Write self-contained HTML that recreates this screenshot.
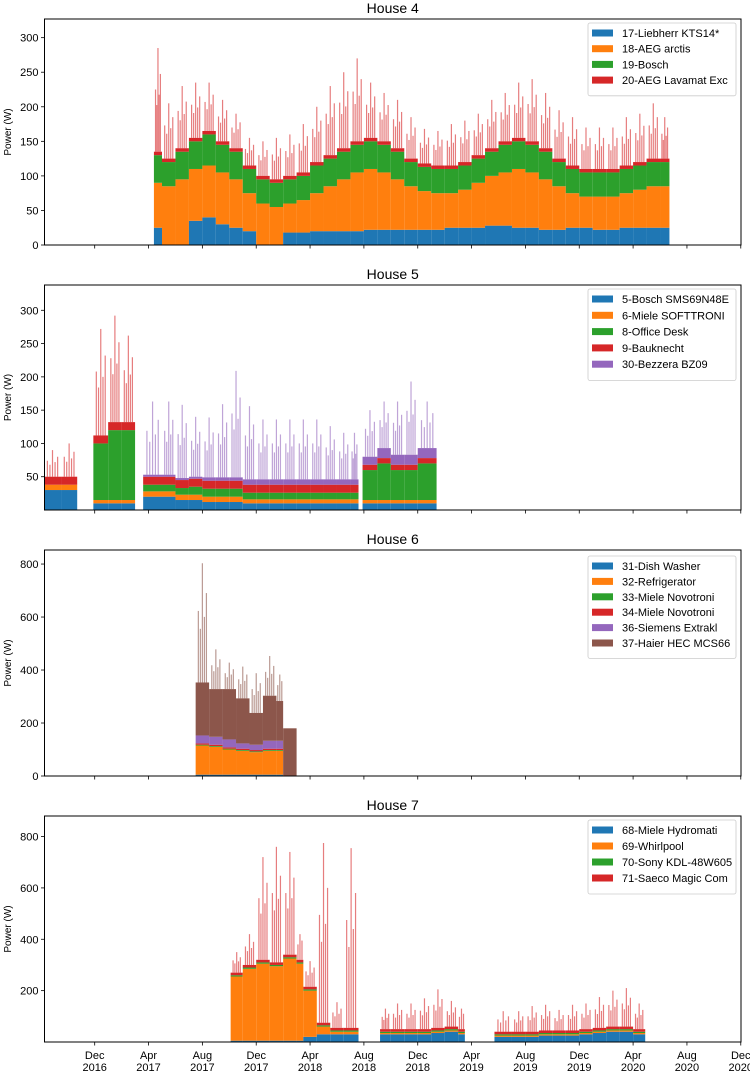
<!DOCTYPE html>
<html><head><meta charset="utf-8"><style>
html,body{margin:0;padding:0;background:#fff;}
svg{display:block;font-family:"Liberation Sans","DejaVu Sans",sans-serif;}
</style></head><body>
<svg id="chart" width="750" height="1071" viewBox="0 0 750 1071" xmlns="http://www.w3.org/2000/svg"></svg>
<script>
// x-axis: month offsets relative to Dec 2016 (0)
const xTickLabels = [["Dec","2016"],["Apr","2017"],["Aug","2017"],["Dec","2017"],["Apr","2018"],["Aug","2018"],["Dec","2018"],["Apr","2019"],["Aug","2019"],["Dec","2019"],["Apr","2020"],["Aug","2020"],["Dec","2020"]];
const xTickMonths = [0,4,8,12,16,20,24,28,32,36,40,44,48];

// House 4
const h4Names = ["17-Liebherr KTS14*","18-AEG arctis","19-Bosch","20-AEG Lavamat Exc"];
const h4Dates = [4.4,5,6,7,8,9,10,11,12,13,14,15,16,17,18,19,20,21,22,23,24,25,26,27,28,29,30,31,32,33,34,35,36,37,38,39,40,41,42,42.7];
const h4Blue = [25,0,0,35,40,30,25,20,0,0,18,18,20,20,20,20,22,22,22,22,22,22,25,25,25,28,28,25,25,22,22,25,25,22,22,25,25,25,25];
const h4Orange = [65,85,95,75,75,75,70,55,60,55,42,47,55,65,75,85,88,83,73,63,56,53,50,55,65,72,77,85,80,73,63,50,45,48,48,50,55,60,60];
const h4Green = [40,35,40,40,45,40,40,35,35,35,35,35,40,40,40,40,40,40,40,35,35,35,35,35,35,35,40,40,40,40,35,35,35,35,35,35,35,35,35];
const h4Red = [5,5,5,5,5,5,5,5,5,5,5,5,5,5,5,5,5,5,5,5,5,5,5,5,5,5,5,5,5,5,5,5,5,5,5,5,5,5,5];
const h4Peaks = [150,80,90,80,70,60,50,40,50,60,60,70,80,100,110,120,80,70,70,60,50,50,60,60,60,70,70,80,90,80,70,70,60,60,60,70,70,80,60];

// House 5
const h5Names = ["5-Bosch SMS69N48E","6-Miele SOFTTRONI","8-Office Desk","9-Bauknecht","30-Bezzera BZ09"];
const h5Dates = [-3.77,-2.5,-1.3,-0.1,1,2,3,3.6,5,6,7,8,9,10,11,12,13,14,15,16,17,18,19,19.6,19.9,21,22,23,24,25.4];
const h5Blue = [30,30,0,10,10,10,0,20,20,15,15,12,12,12,10,10,10,10,10,10,10,10,10,0,10,10,10,10,10];
const h5Orange = [8,8,0,5,5,5,0,8,8,8,8,8,8,8,6,6,6,6,6,6,6,6,6,0,5,5,5,5,5];
const h5Green = [0,0,0,85,105,105,0,10,10,10,12,12,12,12,10,10,10,10,10,10,10,10,10,0,45,55,45,45,55];
const h5Red = [12,12,0,12,12,12,0,12,12,12,12,12,12,12,12,12,12,12,12,12,12,12,12,0,8,8,8,8,8];
const h5Purple = [0,0,0,0,0,0,0,3,3,3,3,5,5,5,8,8,8,8,8,8,8,8,8,0,12,15,15,15,15];
const h5Peaks = [40,50,0,160,160,130,0,110,110,110,90,90,110,160,110,90,90,90,90,90,80,70,70,0,70,70,80,110,70];

// House 6
const h6Names = ["31-Dish Washer","32-Refrigerator","33-Miele Novotroni","34-Miele Novotroni","36-Siemens Extrakl","37-Haier HEC MCS66"];
const h6Dates = [7.5,8.5,9.5,10.5,11.5,12.5,13.5,14.0,15.0];
const h6Blue = [5,5,5,5,5,5,5,0];
const h6Orange = [110,105,95,90,85,90,90,0];
const h6Green = [3,3,3,3,3,3,3,0];
const h6Red = [5,5,5,5,5,5,5,0];
const h6Purple = [30,30,30,20,20,30,30,0];
const h6Brown = [200,180,190,170,120,170,150,180];
const h6Peaks = [450,150,100,120,150,150,100,0];

// House 7
const h7Names = ["68-Miele Hydromati","69-Whirlpool","70-Sony KDL-48W605","71-Saeco Magic Com"];
const h7Dates = [10.1,11,12,13,14,15,15.5,16.5,17.5,18.5,19.6,21.2,22,23,24,25,26,27,27.5,29.7,31,32,33,34,35,36,37,38,39,40,40.9];
const h7Blue = [5,5,5,5,5,5,20,30,30,30,0,30,30,30,30,35,40,30,0,20,20,20,25,25,25,30,35,40,40,30];
const h7Orange = [250,280,300,290,320,300,180,30,10,10,0,5,5,5,5,5,5,5,0,5,5,5,5,5,5,5,5,5,5,5];
const h7Green = [5,5,5,5,5,5,5,5,5,5,0,5,5,5,5,5,5,5,0,5,5,5,5,5,5,5,5,5,5,5];
const h7Red = [10,10,10,10,10,10,10,10,10,10,0,10,10,10,10,10,10,10,0,10,10,10,10,10,10,10,10,10,10,10];
const h7Peaks = [80,120,400,450,400,100,100,700,100,700,0,80,100,100,120,150,100,80,0,80,80,100,100,80,100,100,120,140,150,100];

const colors = ["#1f77b4","#ff7f0e","#2ca02c","#d62728","#9467bd","#8c564b"];
const NS = "http://www.w3.org/2000/svg";
const svg = document.getElementById("chart");
const X0 = 44.5, X1 = 741, M0 = 94.7, PXM = 13.46;
function xs(m){ return M0 + m*PXM; }

function mk(tag, attrs, parent){
  const e = document.createElementNS(NS, tag);
  for (const k in attrs) e.setAttribute(k, attrs[k]);
  (parent||svg).appendChild(e);
  return e;
}

const panels = [
  {key:"house-4", title:"House 4", top:19, bot:245, ymax:327, ticks:[0,50,100,150,200,250,300], names:h4Names, dates:h4Dates, series:[h4Blue,h4Orange,h4Green,h4Red], peaks:h4Peaks, legTop:23, rowH:15.7},
  {key:"house-5", title:"House 5", top:285, bot:510, ymax:338, ticks:[50,100,150,200,250,300], names:h5Names, dates:h5Dates, series:[h5Blue,h5Orange,h5Green,h5Red,h5Purple], peaks:h5Peaks, legTop:289, rowH:16.3},
  {key:"house-6", title:"House 6", top:550, bot:776, ymax:853, ticks:[0,200,400,600,800], names:h6Names, dates:h6Dates, series:[h6Blue,h6Orange,h6Green,h6Red,h6Purple,h6Brown], peaks:h6Peaks, legTop:556, rowH:15.4},
  {key:"house-7", title:"House 7", top:816, bot:1042, ymax:880, ticks:[200,400,600,800], names:h7Names, dates:h7Dates, series:[h7Blue,h7Orange,h7Green,h7Red], peaks:h7Peaks, legTop:820, rowH:16}
];

panels.forEach((p, pi) => {
  const g = mk("g", {});
  
  
  const ys = v => p.bot - v/p.ymax*(p.bot-p.top);
  const clipId = "clip"+pi;
  const cp = mk("clipPath", {id:clipId}, g);
  mk("rect", {x:X0, y:p.top, width:X1-X0, height:p.bot-p.top}, cp);
  const marks = mk("g", {"clip-path":"url(#"+clipId+")"}, g);
  
  
  for (let i=0;i<p.dates.length-1;i++){
    const xa = xs(p.dates[i]), xb = xs(p.dates[i+1]);
    let cum = 0, lastColor = colors[0];
    p.series.forEach((s, si) => {
      const v = s[i];
      if (v > 0){
        const r = mk("rect", {x:xa, y:ys(cum+v), width:Math.max(0.5,xb-xa), height:ys(cum)-ys(cum+v), fill:colors[si]}, marks);
        
        
        lastColor = colors[si];
      }
      cum += v;
    });
    const pk = p.peaks[i];
    if (pk > 0){
      const w = xb-xa;
      const fr = [0.5, 0.2, 0.8, 0.35, 0.65];
      const hs = [1, 0.6, 0.75, 0.45, 0.55];
      fr.forEach((f, j) => {
        if (w < 8 && j > 2) return;
        const xm = xa + w*f;
        const l = mk("line", {x1:xm, x2:xm, y1:ys(cum), y2:ys(cum+pk*hs[j]), stroke:lastColor, "stroke-width":1.2, "stroke-opacity":0.6}, marks);
        
        
      });
    }
  }
  const fr = mk("rect", {x:X0, y:p.top, width:X1-X0, height:p.bot-p.top, fill:"none", stroke:"#000", "stroke-width":1}, g);
  
  
  p.ticks.forEach(t => {
    const y = ys(t);
    mk("line", {x1:X0-3.5, x2:X0, y1:y, y2:y, stroke:"#000", "stroke-width":0.8}, g);
    const tx = mk("text", {x:X0-6, y:y+4, "text-anchor":"end", "font-size":"11", fill:"#000"}, g);
    tx.textContent = t;
    
    
  });
  const yl = mk("text", {x:0, y:0, transform:"translate(11,"+((p.top+p.bot)/2)+") rotate(-90)", "text-anchor":"middle", "font-size":"10", fill:"#000"}, g);
  yl.textContent = "Power (W)";
  
  
  xTickMonths.forEach((m, k) => {
    const x = xs(m);
    mk("line", {x1:x, x2:x, y1:p.bot, y2:p.bot+3.5, stroke:"#000", "stroke-width":0.8}, g);
    if (pi === panels.length-1){
      const t1 = mk("text", {x:x, y:p.bot+17, "text-anchor":"middle", "font-size":"11", fill:"#000"}, g);
      t1.textContent = xTickLabels[k][0];
      
      
      const t2 = mk("text", {x:x, y:p.bot+29, "text-anchor":"middle", "font-size":"11", fill:"#000"}, g);
      t2.textContent = xTickLabels[k][1];
      
      
    }
  });
  const ti = mk("text", {x:(X0+X1)/2, y:p.top-6, "text-anchor":"middle", "font-size":"14", fill:"#000"}, g);
  ti.textContent = p.title;
  
  
  const lg = mk("g", {}, g);
  
  
  const n = p.names.length;
  const lh = 6 + n*p.rowH + 4;
  mk("rect", {x:588, y:p.legTop, width:148, height:lh, rx:2, fill:"#fff", "fill-opacity":0.85, stroke:"#ccc", "stroke-width":0.8}, lg);
  p.names.forEach((nm, k) => {
    const cy = p.legTop + 10 + k*p.rowH;
    const e = mk("g", {}, lg);
    
    
    mk("rect", {x:592, y:cy-3.5, width:21, height:7, fill:colors[k]}, e);
    const t = mk("text", {x:622, y:cy+4, "font-size":"11", fill:"#000"}, e);
    t.textContent = nm;
  });
});
</script>
</body></html>
